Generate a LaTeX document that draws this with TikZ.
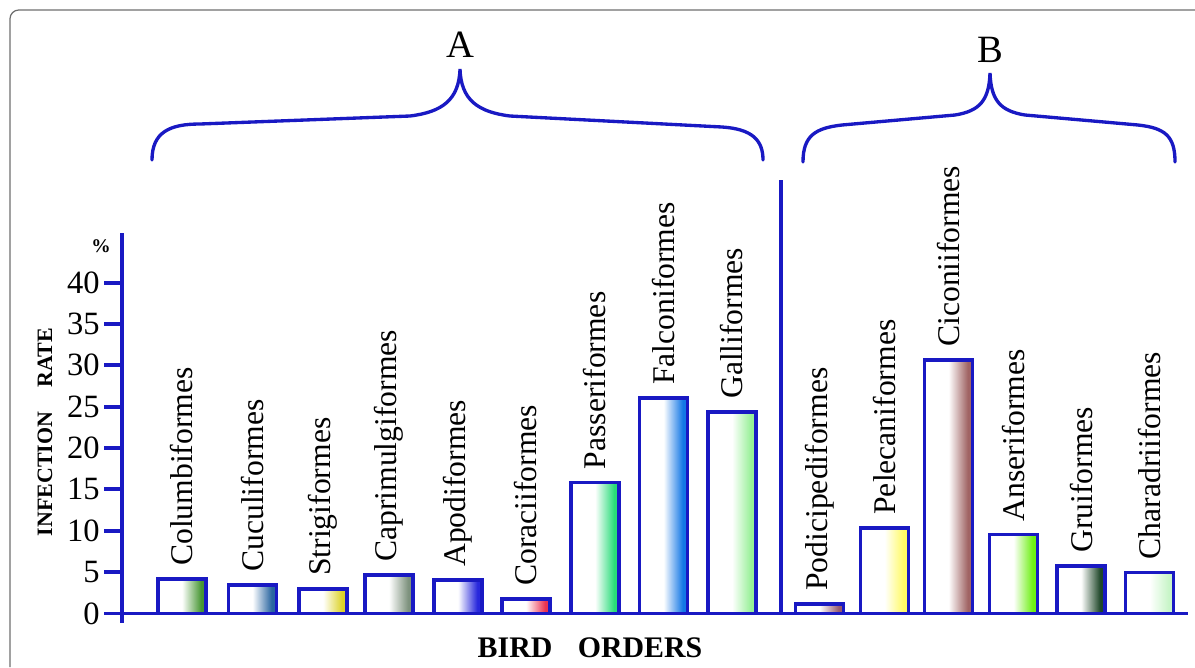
\documentclass[tikz,border=0pt]{standalone}
\usepackage{fontspec}
\setmainfont{Liberation Serif}
\usetikzlibrary{positioning}
\definecolor{axisblue}{RGB}{25,25,195}
\definecolor{framegray}{RGB}{110,110,110}
\definecolor{cColu}{RGB}{70,150,50}
\definecolor{cCucu}{RGB}{40,100,160}
\definecolor{cStri}{RGB}{220,210,40}
\definecolor{cCapr}{RGB}{125,145,125}
\definecolor{cApod}{RGB}{40,40,220}
\definecolor{cCora}{RGB}{235,50,80}
\definecolor{cPass}{RGB}{40,220,120}
\definecolor{cFalc}{RGB}{20,120,230}
\definecolor{cGall}{RGB}{150,240,150}
\definecolor{cPodi}{RGB}{150,90,110}
\definecolor{cPele}{RGB}{255,250,100}
\definecolor{cCico}{RGB}{160,100,100}
\definecolor{cAnse}{RGB}{110,240,20}
\definecolor{cGrui}{RGB}{30,70,40}
\definecolor{cChar}{RGB}{200,245,200}
\colorlet{barcol}{white}
\pgfdeclarehorizontalshading[barcol]{halfbar}{100bp}{color(0bp)=(white); color(50bp)=(white); color(70bp)=(barcol); color(100bp)=(barcol)}
\tikzset{
    axis/.style={draw=axisblue, line width=2pt},
    brace/.style={draw=axisblue, line width=1.9pt, line cap=round},
    bar/.style 2 args={rectangle, draw=axisblue, line width=2pt, anchor=south, outer sep=0pt, inner sep=0pt,
        minimum width=0.96cm, minimum height=#1*1.654mm, /utils/exec={\colorlet{barcol}{#2}}, shading=halfbar},
    lbl/.style={rotate=90, anchor=west, inner sep=0pt, font=\fontsize{18}{20}\selectfont},
    ticklbl/.style={anchor=east, inner sep=0pt, font=\fontsize{18.5}{20}\selectfont},
    group/.style={inner sep=0pt, font=\fontsize{22}{26}\selectfont},
    title/.style={inner sep=0pt, font=\bfseries\fontsize{#1}{20}\selectfont}
}
\begin{document}
\begin{tikzpicture}[x=0.02cm, y=-0.02cm]
    \useasboundingbox (0,0) rectangle (1195,667);
    \draw[framegray, line width=0.7pt, rounded corners=5pt] (10,667) -- (10,10) -- (1195,10);

    \coordinate (O) at (122,613.5);
    \coordinate (ytop) at (122,233);
    \coordinate (ybot) at (122,623);
    \coordinate (xend) at (1188,613.5);
    \coordinate (split) at (781,180);
    \draw[axis] (ytop) -- (ybot);
    \draw[axis] (O) -- (xend);
    \draw[axis] (split) -- (split |- O);

    \node[ticklbl] (t0) at (100,613.5) {0};
    \node[ticklbl] (t5) at (100,572) {5};
    \node[ticklbl] (t10) at (100,531) {10};
    \node[ticklbl] (t15) at (100,489) {15};
    \node[ticklbl] (t20) at (100,448) {20};
    \node[ticklbl] (t25) at (100,407) {25};
    \node[ticklbl] (t30) at (100,365) {30};
    \node[ticklbl] (t35) at (100,324) {35};
    \node[ticklbl] (t40) at (100,283) {40};
    \draw[axis] (t0.east) ++(4,0) -- (t0 -| O);
    \draw[axis] (t5.east) ++(4,0) -- (t5 -| O);
    \draw[axis] (t10.east) ++(4,0) -- (t10 -| O);
    \draw[axis] (t15.east) ++(4,0) -- (t15 -| O);
    \draw[axis] (t20.east) ++(4,0) -- (t20 -| O);
    \draw[axis] (t25.east) ++(4,0) -- (t25 -| O);
    \draw[axis] (t30.east) ++(4,0) -- (t30 -| O);
    \draw[axis] (t35.east) ++(4,0) -- (t35 -| O);
    \draw[axis] (t40.east) ++(4,0) -- (t40 -| O);
    \node[title=11] (pct) at (101,246) {\%};
    \node[title=12.5, rotate=90] (yname) at (45,432) {INFECTION\hspace{1.1em}RATE};
    \node[title=17] (xname) at (590,648) {BIRD\hspace{0.85em}ORDERS};

    \node[bar={4.15}{cColu}] (colu) at (182,613.5) {};
    \node[bar={3.45}{cCucu}] (cucu) at (252.5,613.5) {};
    \node[bar={2.95}{cStri}] (stri) at (323,613.5) {};
    \node[bar={4.65}{cCapr}] (capr) at (389,613.5) {};
    \node[bar={4.05}{cApod}] (apod) at (458,613.5) {};
    \node[bar={1.75}{cCora}] (cora) at (526,613.5) {};
    \node[bar={15.85}{cPass}] (pass) at (595,613.5) {};
    \node[bar={26.05}{cFalc}] (falc) at (663.5,613.5) {};
    \node[bar={24.35}{cGall}] (gall) at (732,613.5) {};
    \node[bar={1.15}{cPodi}] (podi) at (819.5,613.5) {};
    \node[bar={10.35}{cPele}] (pele) at (884.5,613.5) {};
    \node[bar={30.65}{cCico}] (cico) at (948.5,613.5) {};
    \node[bar={9.55}{cAnse}] (anse) at (1013.5,613.5) {};
    \node[bar={5.75}{cGrui}] (grui) at (1081,613.5) {};
    \node[bar={4.95}{cChar}] (char) at (1149.5,613.5) {};

    \node[lbl] (colu-l) at ([yshift=0.26cm]colu.north) {Columbiformes};
    \node[lbl] (cucu-l) at ([yshift=0.26cm]cucu.north) {Cuculiformes};
    \node[lbl] (stri-l) at ([yshift=0.26cm]stri.north) {Strigiformes};
    \node[lbl] (capr-l) at ([yshift=0.26cm]capr.north) {Caprimulgiformes};
    \node[lbl] (apod-l) at ([yshift=0.26cm]apod.north) {Apodiformes};
    \node[lbl] (cora-l) at ([yshift=0.26cm]cora.north) {Coraciiformes};
    \node[lbl] (pass-l) at ([yshift=0.26cm]pass.north) {Passeriformes};
    \node[lbl] (falc-l) at ([yshift=0.26cm]falc.north) {Falconiformes};
    \node[lbl] (gall-l) at ([yshift=0.26cm]gall.north) {Galliformes};
    \node[lbl] (podi-l) at ([yshift=0.26cm]podi.north) {Podicipediformes};
    \node[lbl] (pele-l) at ([yshift=0.26cm]pele.north) {Pelecaniformes};
    \node[lbl] (cico-l) at ([yshift=0.26cm]cico.north) {Ciconiiformes};
    \node[lbl] (anse-l) at ([yshift=0.26cm]anse.north) {Anseriformes};
    \node[lbl] (grui-l) at ([yshift=0.26cm]grui.north) {Gruiformes};
    \node[lbl] (char-l) at ([yshift=0.26cm]char.north) {Charadriiformes};

    \node[group] (grpA) at (460,45) {A};
    \node[group] (grpB) at (990,50) {B};
    \draw[brace] (152,160) .. controls (152,132) and (170,124) .. (200,124) -- (410,116)
        .. controls (442,112) and (459,100) .. (460,69)
        .. controls (461,100) and (478,112) .. (510,116) -- (722,127)
        .. controls (752,129) and (763,140) .. (763,160);
    \draw[brace] (803,162) .. controls (803,136) and (815,128) .. (842,125) -- (955,115)
        .. controls (980,111) and (989,100) .. (990,73)
        .. controls (991,100) and (1000,111) .. (1025,115) -- (1138,125)
        .. controls (1165,128) and (1175,136) .. (1175,162);
\end{tikzpicture}
\end{document}
